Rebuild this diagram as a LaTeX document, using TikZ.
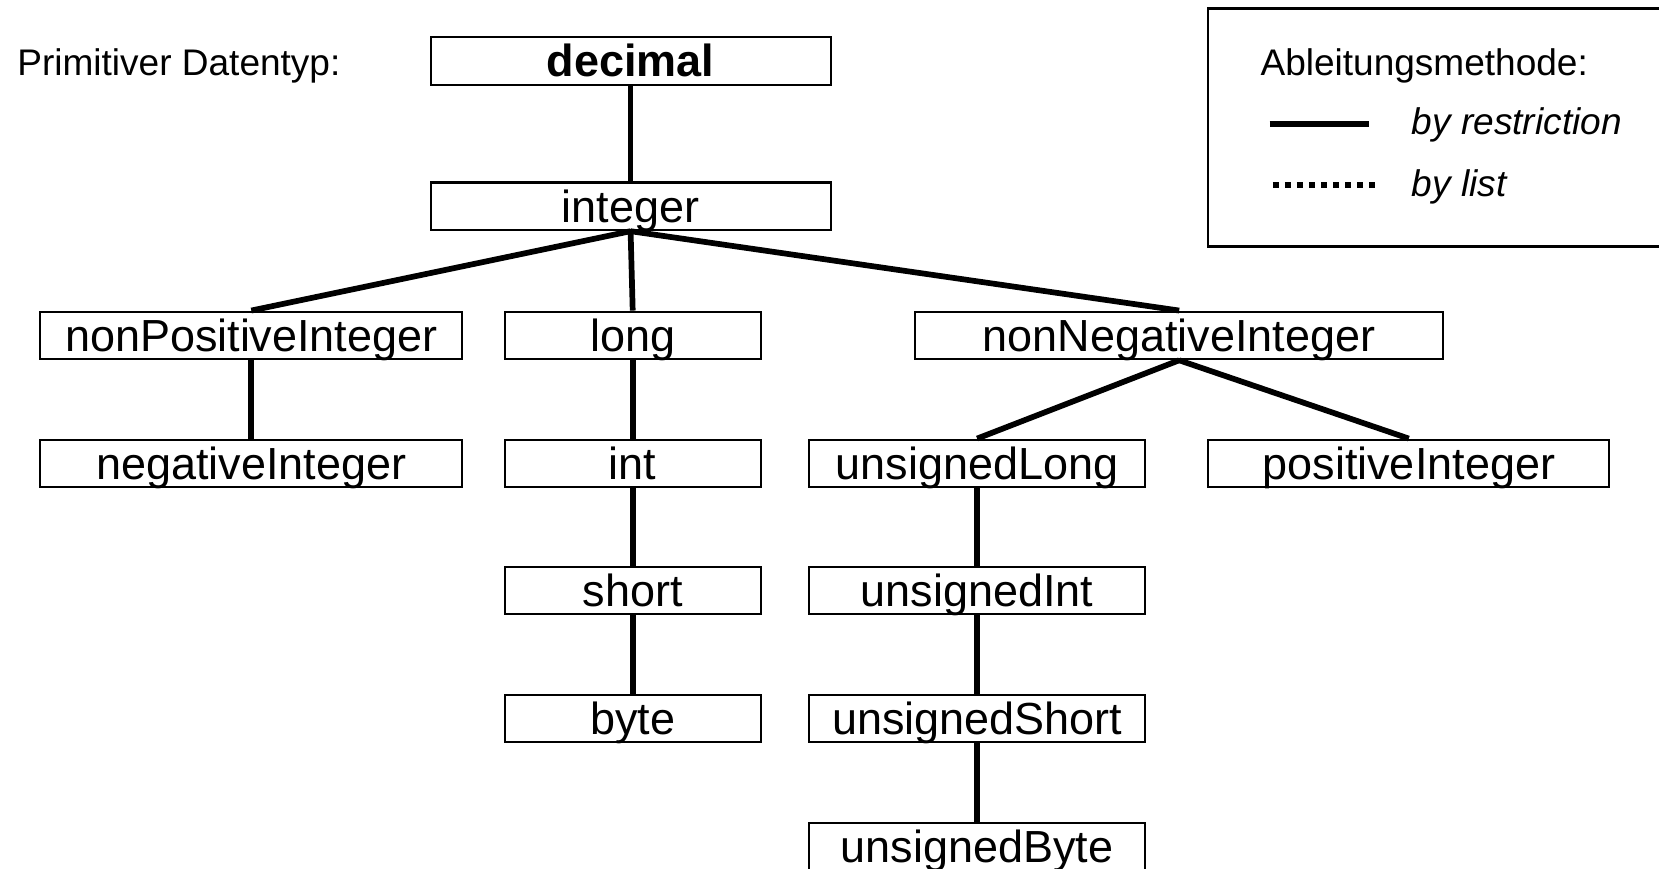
\documentclass[tikz,border=0pt]{standalone}
\usepackage{fontspec}
\setmainfont{Liberation Sans}
\usepackage{tikz}

\tikzset{
  typbox/.style={draw, line width=1pt, inner sep=0pt, minimum height=22.5pt,
    text height=15.2pt, text depth=0pt, font=\fontsize{21.25}{24}\selectfont},
  kante/.style={line width=2.7pt},
  klein/.style={anchor=west, inner sep=0pt, text height=12.5pt, text depth=0pt,
    font=\fontsize{17.5}{20}\selectfont}
}

\begin{document}
\begin{tikzpicture}[x=0.5pt,y=0.5pt,yscale=-1,xscale=1]
        \useasboundingbox (0,0) rectangle (1568,821.3);

        % Typen
        \node [typbox, minimum width=189pt] (decimal) at (596,57.5) {\textbf{decimal}};
        \node [typbox, minimum width=189pt] (integer) at (596,195) {integer};
        \node [typbox, minimum width=199.5pt] (nonpos) at (237.5,317) {nonPositiveInteger};
        \node [typbox, minimum width=121pt] (long) at (598,317) {long};
        \node [typbox, minimum width=249.5pt] (nonneg) at (1114.5,317) {nonNegativeInteger};
        \node [typbox, minimum width=199.5pt] (neg) at (237.5,438) {negativeInteger};
        \node [typbox, minimum width=121pt] (int) at (598,438) {int};
        \node [typbox, minimum width=158.5pt] (ulong) at (923.5,438) {unsignedLong};
        \node [typbox, minimum width=189.5pt] (pos) at (1331.5,438) {positiveInteger};
        \node [typbox, minimum width=121pt] (short) at (598,558) {short};
        \node [typbox, minimum width=158.5pt] (uint) at (923.5,558) {unsignedInt};
        \node [typbox, minimum width=121pt] (byte) at (598,679) {byte};
        \node [typbox, minimum width=158.5pt] (ushort) at (923.5,679) {unsignedShort};
        \node [typbox, minimum width=158.5pt] (ubyte) at (923.5,800) {unsignedByte};

        % Ableitungen
        \draw [kante] (decimal.south) -- (integer.north);
        \draw [kante] (integer.south) -- (nonpos.north);
        \draw [kante] (integer.south) -- (long.north);
        \draw [kante] (integer.south) -- (nonneg.north);
        \draw [kante] (nonpos.south) -- (neg.north);
        \draw [kante] (long.south) -- (int.north);
        \draw [kante] (int.south) -- (short.north);
        \draw [kante] (short.south) -- (byte.north);
        \draw [kante] (nonneg.south) -- (ulong.north);
        \draw [kante] (nonneg.south) -- (pos.north);
        \draw [kante] (ulong.south) -- (uint.north);
        \draw [kante] (uint.south) -- (ushort.north);
        \draw [kante] (ushort.south) -- (ubyte.north);

        \node [klein] (primtxt) at (16,59) {Primitiver Datentyp:};

        % Legende
        \draw [line width=1pt] (1142,8) rectangle (1580,233);
        \node [klein] (legtxt) at (1191,59) {Ableitungsmethode:};
        \coordinate (r1) at (1200,117);
        \coordinate (r2) at (1294,117);
        \coordinate (l1) at (1203,175);
        \coordinate (l2) at (1300,175);
        \draw [kante] (r1) -- (r2);
        \draw [line width=2.8pt, dash pattern=on 2.8pt off 2.9pt] (l1) -- (l2);
        \node [klein] (restr) at (1334,115) {\itshape by restriction};
        \node [klein] (list) at (1334,173) {\itshape by list};
\end{tikzpicture}
\end{document}
